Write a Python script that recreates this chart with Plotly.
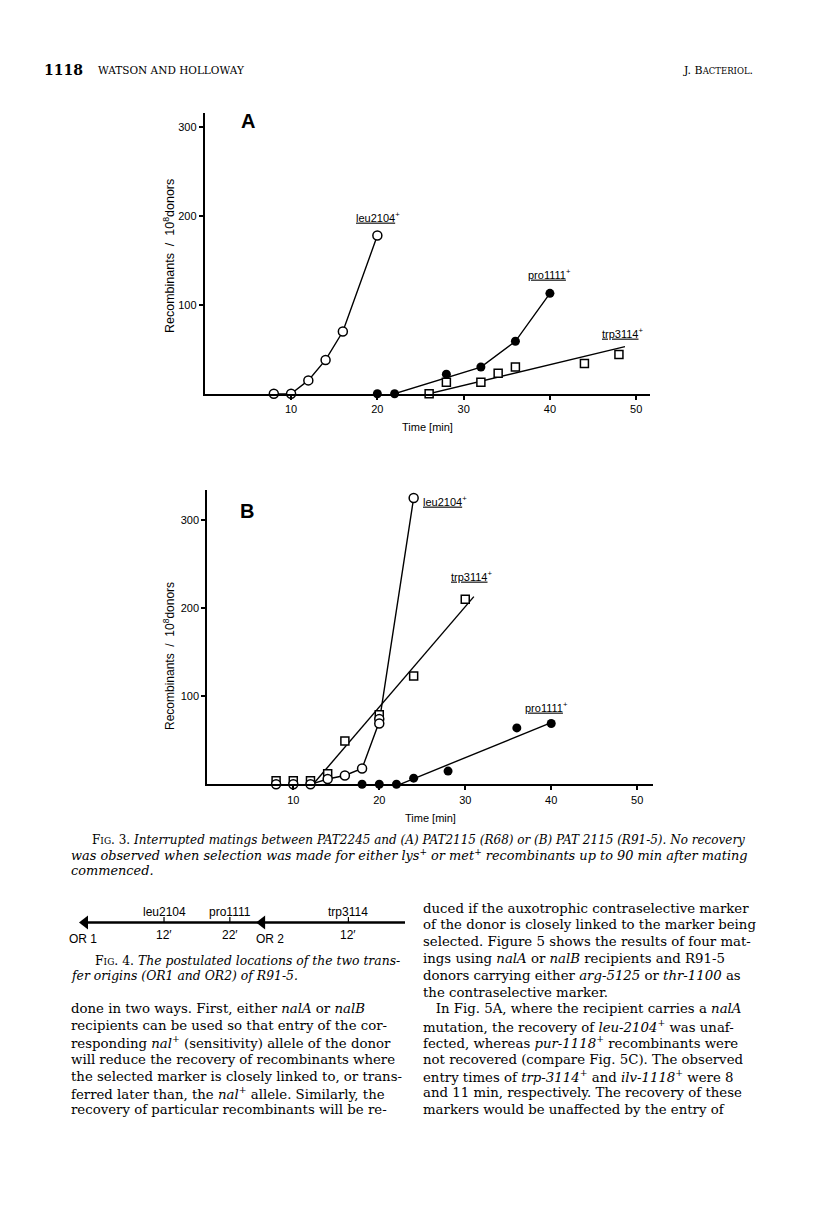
import plotly.graph_objects as go

W, H = 816, 1231

# ---- Fig. 3A : PAT2245 x PAT2115 (R68) ----
a_leu_t = [8, 10, 12, 14, 16, 20]
a_leu_n = [0, 0, 15, 38, 70, 178]
a_pro_t = [20, 22, 28, 32, 36, 40]
a_pro_n = [0, 0, 22, 30, 59, 113]
a_pro_line_t = [22, 32, 36, 40]
a_pro_line_n = [0, 30, 59, 113]
a_trp_t = [26, 28, 32, 34, 36, 44, 48]
a_trp_n = [0, 13, 13, 23, 30, 34, 44]
a_trp_fit_t = [26, 48.7]
a_trp_fit_n = [0, 53]

# ---- Fig. 3B : PAT2245 x PAT2115 (R91-5) ----
b_leu_t = [8, 10, 12, 14, 16, 18, 20, 20, 24]
b_leu_n = [0, 0, 0, 6, 10, 18, 74, 69, 325]
b_leu_line_t = [12, 14, 16, 18, 20, 24]
b_leu_line_n = [0, 6, 10, 18, 71, 325]
b_trp_t = [8, 10, 12, 14, 16, 20, 24, 30]
b_trp_n = [4, 4, 4, 12, 49, 79, 123, 210]
b_trp_fit_t = [12.3, 31]
b_trp_fit_n = [0, 213]
b_pro_t = [18, 20, 22, 24, 28, 36, 40]
b_pro_n = [0, 0, 0, 7, 15, 64, 69]
b_pro_fit_t = [22.4, 40]
b_pro_fit_n = [0, 70]

x_ticks = [10, 20, 30, 40, 50]
y_ticks = [100, 200, 300]

# ---- Fig. 4 : map of transfer origins ----
map_names = ["leu2104", "pro1111", "trp3114"]
map_pos = [12, 22, 40]
map_dist = ["12\u2032", "22\u2032", "12\u2032"]
origin_names = ["OR 1", "OR 2"]
origin_pos = [0, 26.9]
map_end = 48.6

header_left = ["1118", "WATSON AND HOLLOWAY"]
header_right = "J. B<span style='font-size:8.5px'>ACTERIOL</span>."

fig3_caption = [
    "F<span style='font-size:9px'>IG</span>. 3. <i>Interrupted matings between PAT2245 and (A) PAT2115 (R68) or (B) PAT 2115 (R91-5). No recovery</i>",
    "<i>was observed when selection was made for either lys</i><sup>+</sup><i> or met</i><sup>+</sup><i> recombinants up to 90 min after mating</i>",
    "<i>commenced.</i>",
]
fig4_caption = [
    "F<span style='font-size:9px'>IG</span>. 4. <i>The postulated locations of the two trans-</i>",
    "<i>fer origins (OR1 and OR2) of R91-5.</i>",
]
left_col = [
    "done in two ways. First, either <i>nalA</i> or <i>nalB</i>",
    "recipients can be used so that entry of the cor-",
    "responding <i>nal</i><sup>+</sup> (sensitivity) allele of the donor",
    "will reduce the recovery of recombinants where",
    "the selected marker is closely linked to, or trans-",
    "ferred later than, the <i>nal</i><sup>+</sup> allele. Similarly, the",
    "recovery of particular recombinants will be re-",
]
right_col = [
    "duced if the auxotrophic contraselective marker",
    "of the donor is closely linked to the marker being",
    "selected. Figure 5 shows the results of four mat-",
    "ings using <i>nalA</i> or <i>nalB</i> recipients and R91-5",
    "donors carrying either <i>arg-5125</i> or <i>thr-1100</i> as",
    "the contraselective marker.",
    "   In Fig. 5A, where the recipient carries a <i>nalA</i>",
    "mutation, the recovery of <i>leu-2104</i><sup>+</sup> was unaf-",
    "fected, whereas <i>pur-1118</i><sup>+</sup> recombinants were",
    "not recovered (compare Fig. 5C). The observed",
    "entry times of <i>trp-3114</i><sup>+</sup> and <i>ilv-1118</i><sup>+</sup> were 8",
    "and 11 min, respectively. The recovery of these",
    "markers would be unaffected by the entry of",
]

SANS = "Liberation Sans, Arial, sans-serif"
SERIF = "DejaVu Serif, serif"


def px(x):
    return x / W


def py(y):
    return 1 - y / H


def open_marks(fig, t, n, xa, ya, symbol, size):
    fig.add_scatter(x=t, y=n, xaxis=xa, yaxis=ya, mode="markers", cliponaxis=False,
                    marker=dict(symbol=symbol, size=size, color="white",
                                line=dict(color="black", width=1.5)))


def filled_marks(fig, t, n, xa, ya):
    fig.add_scatter(x=t, y=n, xaxis=xa, yaxis=ya, mode="markers", cliponaxis=False,
                    marker=dict(symbol="circle", size=9, color="black"))


def line(fig, t, n, xa, ya):
    fig.add_scatter(x=t, y=n, xaxis=xa, yaxis=ya, mode="lines", cliponaxis=False,
                    line=dict(color="black", width=1.4))


fig = go.Figure()

# panel A
line(fig, a_leu_t, a_leu_n, "x", "y")
line(fig, a_pro_line_t, a_pro_line_n, "x", "y")
line(fig, a_trp_fit_t, a_trp_fit_n, "x", "y")
open_marks(fig, a_leu_t, a_leu_n, "x", "y", "circle", 9)
filled_marks(fig, a_pro_t, a_pro_n, "x", "y")
open_marks(fig, a_trp_t, a_trp_n, "x", "y", "square", 8)

# panel B
line(fig, b_leu_line_t, b_leu_line_n, "x2", "y2")
line(fig, b_trp_fit_t, b_trp_fit_n, "x2", "y2")
line(fig, b_pro_fit_t, b_pro_fit_n, "x2", "y2")
open_marks(fig, b_trp_t, b_trp_n, "x2", "y2", "square", 8)
open_marks(fig, b_leu_t, b_leu_n, "x2", "y2", "circle", 9)
filled_marks(fig, b_pro_t, b_pro_n, "x2", "y2")

# fig 4 map
fig.add_scatter(x=[origin_pos[0], map_end], y=[0, 0], xaxis="x3", yaxis="y3", mode="lines",
                cliponaxis=False, line=dict(color="black", width=2.5))
tick_x, tick_y = [], []
for p in map_pos:
    tick_x += [p, p, None]
    tick_y += [0, 0.32, None]
fig.add_scatter(x=tick_x, y=tick_y, xaxis="x3", yaxis="y3", mode="lines",
                cliponaxis=False, line=dict(color="black", width=1.2))
fig.add_scatter(x=origin_pos, y=[0, 0], xaxis="x3", yaxis="y3", mode="markers",
                cliponaxis=False, marker=dict(symbol="triangle-left", size=12, color="black"))

axis_common = dict(showgrid=False, zeroline=False, showline=True, linecolor="black",
                   linewidth=2, ticks="outside", ticklen=4, tickwidth=1.5, tickcolor="black",
                   tickfont=dict(family=SANS, size=11, color="black"))

fig.update_layout(
    width=W, height=H, margin=dict(l=0, r=0, t=0, b=0),
    paper_bgcolor="white", plot_bgcolor="rgba(0,0,0,0)", showlegend=False,
    xaxis=dict(domain=[px(204.8), px(650)], range=[0, 51.6], anchor="y",
               tickvals=x_ticks, **axis_common),
    yaxis=dict(domain=[py(393.7), py(113)], range=[0, 316], anchor="x",
               tickvals=y_ticks, **axis_common),
    xaxis2=dict(domain=[px(207.3), px(652.7)], range=[0, 51.8], anchor="y2",
                tickvals=x_ticks, **axis_common),
    yaxis2=dict(domain=[py(784.3), py(490)], range=[0, 334], anchor="x2",
                tickvals=y_ticks, **axis_common),
    xaxis3=dict(domain=[px(80), px(405)], range=[-0.76, map_end], anchor="y3", visible=False),
    yaxis3=dict(domain=[py(940), py(905)], range=[-1, 1], anchor="x3", visible=False),
)

ann = []


def text(x, y, s, size, family=SANS, xanchor="center", **kw):
    ann.append(dict(x=px(x), y=py(y), xref="paper", yref="paper", text=s, showarrow=False,
                    xanchor=xanchor, yanchor="middle",
                    font=dict(family=family, size=size, color="black"), **kw))


# header
text(42, 70, "<b>" + header_left[0] + "</b>", 14, SERIF, "left")
text(96, 70, header_left[1], 10.5, SERIF, "left")
text(755, 70, header_right, 11, SERIF, "right")

# panel letters, axis titles
text(248, 121, "<b>A</b>", 20)
text(247, 511, "<b>B</b>", 20)
ytitle = "Recombinants  /  10<sup>8</sup>donors"
text(169, 256, ytitle, 12.5, textangle=-90)
text(169, 656, ytitle, 12, textangle=-90)
text(427, 427, "Time [min]", 11)
text(430, 818, "Time [min]", 11)

# series labels (data coords)
series_labels = [
    ("x", "y", 20.1, 199, "leu2104"), ("x", "y", 40.0, 135, "pro1111"),
    ("x", "y", 48.5, 68, "trp3114"),
    ("x2", "y2", 27.6, 322, "leu2104"), ("x2", "y2", 30.8, 236, "trp3114"),
    ("x2", "y2", 39.4, 88, "pro1111"),
]
for xr, yr, x, y, s in series_labels:
    ann.append(dict(x=x, y=y, xref=xr, yref=yr, showarrow=False,
                    text="<u>" + s + "</u><sup>+</sup>",
                    font=dict(family=SANS, size=11, color="black")))

# fig 3 caption
text(90, 840, fig3_caption[0], 12, SERIF, "left")
for i, s in enumerate(fig3_caption[1:]):
    text(69, 855 + 15 * i, s, 12.9, SERIF, "left")

# fig 4 labels
for p, nm, d in zip(map_pos, map_names, map_dist):
    ann.append(dict(x=p, y=0.62, xref="x3", yref="y3", text=nm, showarrow=False,
                    font=dict(family=SANS, size=12, color="black")))
    ann.append(dict(x=p, y=-0.7, xref="x3", yref="y3", text=d, showarrow=False,
                    font=dict(family=SANS, size=12, color="black")))
for p, nm, dx in zip(origin_pos, origin_names, [-2, 8]):
    ann.append(dict(x=p, y=-0.95, xref="x3", yref="y3", text=nm, showarrow=False, xshift=dx,
                    font=dict(family=SANS, size=12, color="black")))

text(93, 960, fig4_caption[0], 12.4, SERIF, "left")
text(69, 975, fig4_caption[1], 12.4, SERIF, "left")

# body text
sp = 16.8
for i, s in enumerate(right_col):
    text(421, 908 + sp * i, s, 13.3, SERIF, "left")
for i, s in enumerate(left_col):
    text(69, 908 + sp * (i + 6), s, 13.3, SERIF, "left")

fig.update_layout(annotations=ann)
# drop the browser's default 8px body margin so the page lines up with the figure
fig.write_html("out.html", config={"displayModeBar": False},
               post_script="document.body.style.margin='0';")
